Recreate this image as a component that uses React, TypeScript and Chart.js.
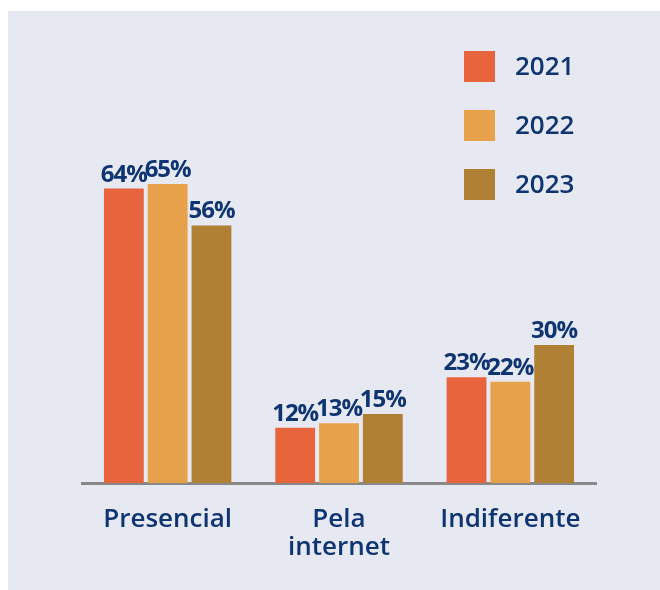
import React, { useEffect, useRef } from "react";
import { Chart, registerables } from "chart.js";

Chart.register(...registerables);

const categories: (string | string[])[] = ["Presencial", ["Pela", "internet"], "Indiferente"];
const seriesNames = ["2021", "2022", "2023"];
const values2021 = [64, 12, 23];
const values2022 = [65, 13, 22];
const values2023 = [56, 15, 30];
const seriesColors = ["#E8643C", "#E8A14B", "#B08034"];

const NAVY = "#0E3471";
const FONT = "'Open Sans', 'DejaVu Sans', sans-serif";

const valueLabelPlugin = {
  id: "valueLabels",
  afterDatasetsDraw(chart: any) {
    const ctx = chart.ctx;
    ctx.save();
    ctx.fillStyle = NAVY;
    ctx.font = `700 24px ${FONT}`;
    try {
      (ctx as any).letterSpacing = "-1px";
    } catch (e) {}
    ctx.textAlign = "center";
    ctx.textBaseline = "alphabetic";
    chart.data.datasets.forEach((ds: any, di: number) => {
      const meta = chart.getDatasetMeta(di);
      meta.data.forEach((bar: any, i: number) => {
        ctx.fillText(`${ds.data[i]}%`, bar.x, bar.y - 7);
      });
    });
    ctx.restore();
  },
};

const legendPlugin = {
  id: "customLegend",
  afterDraw(chart: any) {
    const ctx = chart.ctx;
    ctx.save();
    const boxX = 456;
    const boxY = 40;
    const size = 31;
    const step = 59;
    ctx.font = `600 26px ${FONT}`;
    ctx.textAlign = "left";
    ctx.textBaseline = "middle";
    chart.data.datasets.forEach((ds: any, i: number) => {
      const y = boxY + i * step;
      ctx.fillStyle = ds.backgroundColor;
      ctx.fillRect(boxX, y, size, size);
      ctx.fillStyle = NAVY;
      ctx.fillText(ds.label, boxX + size + 20, y + size / 2 + 1);
    });
    ctx.restore();
  },
};

export default function App() {
  const ref = useRef<HTMLCanvasElement | null>(null);

  useEffect(() => {
    if (!ref.current) return;
    const chart = new Chart(ref.current, {
      type: "bar",
      data: {
        labels: categories,
        datasets: [values2021, values2022, values2023].map((d, i) => ({
          label: seriesNames[i],
          data: d,
          backgroundColor: seriesColors[i],
          borderWidth: 0,
          categoryPercentage: 0.767,
          barPercentage: 0.909,
        })),
      },
      options: {
        animation: false,
        responsive: false,
        maintainAspectRatio: false,
        layout: { padding: { left: 74, right: 64, top: 12, bottom: 0 } },
        plugins: {
          legend: { display: false },
          tooltip: { enabled: false },
        },
        scales: {
          x: {
            grid: { display: false, drawTicks: false },
            border: { display: true, color: "#888888", width: 3 },
            ticks: {
              color: NAVY,
              font: { family: FONT, size: 26, weight: "600", lineHeight: 1.1 },
              padding: 22,
              maxRotation: 0,
              autoSkip: false,
            },
            afterFit(scale: any) {
              scale.height = 107;
            },
          },
          y: {
            display: false,
            min: 0,
            max: 100,
          },
        },
      },
      plugins: [valueLabelPlugin, legendPlugin],
    });
    return () => chart.destroy();
  }, []);

  return (
    <div
      style={{
        position: "absolute",
        left: 8,
        top: 11,
        width: 652,
        height: 579,
        background: "#E6E9F1",
      }}
    >
      <canvas ref={ref} width={652} height={579} style={{ display: "block" }} />
    </div>
  );
}
